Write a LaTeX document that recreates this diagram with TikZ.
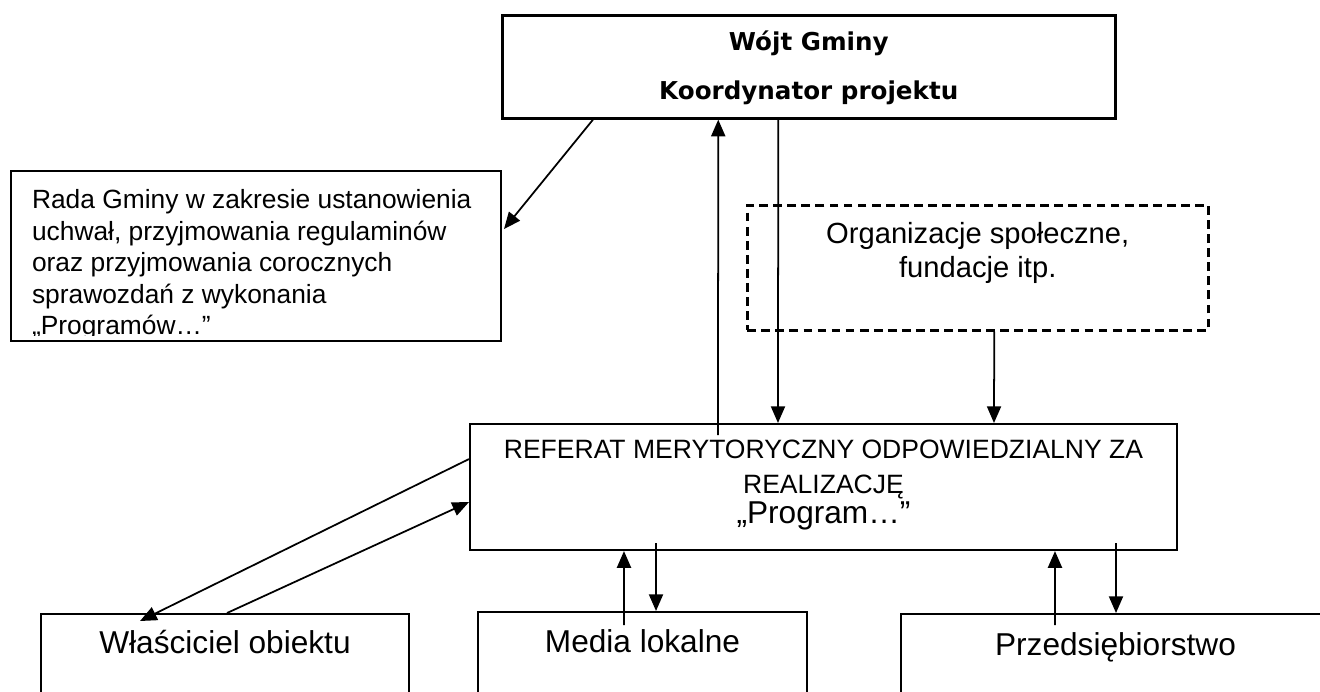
\documentclass[tikz,border=0pt]{standalone}
\usepackage{fontspec}
\setmainfont{Liberation Sans}
\newfontfamily\wojtfont{DejaVu Sans}
\usetikzlibrary{calc,arrows.meta}

\begin{document}
\begin{tikzpicture}[x=0.02cm,y=-0.02cm,
        box/.style={draw,line width=1.2pt,inner sep=0pt,anchor=north west},
        txt/.style={inner sep=0pt,anchor=base},
        arr/.style={line width=1pt,-{Triangle[length=9.5pt,width=8pt]}}]
                \useasboundingbox (0,0) rectangle (1320,691);
                \clip (0,0) rectangle (1320,691);
                % boxes
                \node[box,line width=1.5pt,minimum width=12.26cm,minimum height=2.06cm] (wojt) at (501,14) {};
                \node[box,minimum width=9.81cm,minimum height=3.4cm] (rada) at (9.5,170) {};
                \node[box,dashed,dash pattern=on 5pt off 3pt,line width=1.5pt,minimum width=9.22cm,minimum height=2.5cm] (org) at (746,204) {};
                \node[box,minimum width=14.14cm,minimum height=2.52cm] (ref) at (469,423) {};
                \node[box,minimum width=7.36cm,minimum height=2.4cm] (wlas) at (40,613) {};
                \node[box,minimum width=6.58cm,minimum height=2.4cm] (media) at (477,611) {};
                \node[box,minimum width=8.8cm,minimum height=2.4cm] (przed) at (900,613) {};
                % texts
                \node[txt,font=\wojtfont\bfseries\fontsize{14}{16}\selectfont] (wojt1) at ($(wojt.north)+(0,36)$) {Wójt Gminy};
                \node[txt,font=\wojtfont\bfseries\fontsize{14}{16}\selectfont] (wojt2) at ($(wojt.north)+(0,85)$) {Koordynator projektu};
                \node[txt,font=\fontsize{16.6}{19}\selectfont] (org1) at ($(org.north)+(0,39)$) {Organizacje społeczne,};
                \node[txt,font=\fontsize{16.6}{19}\selectfont] (org2) at ($(org.north)+(0,73)$) {fundacje itp.};
                \node[txt,font=\fontsize{15.1}{18}\selectfont] (ref1) at ($(ref.north)+(0,35)$) {REFERAT MERYTORYCZNY ODPOWIEDZIALNY ZA};
                \node[txt,font=\fontsize{15.1}{18}\selectfont] (ref2) at ($(ref.north)+(0,70)$) {REALIZACJĘ};
                \node[txt,font=\fontsize{18}{21}\selectfont] (ref3) at ($(ref.north)+(0,100)$) {„Program…”};
                \node[txt,font=\fontsize{18}{21}\selectfont] (wlas1) at ($(wlas.north)+(0,40)$) {Właściciel obiektu};
                \node[txt,font=\fontsize{18}{21}\selectfont] (media1) at ($(media.north)+(0,41)$) {Media lokalne};
                \node[txt,font=\fontsize{18}{21}\selectfont] (przed1) at ($(przed.north)+(-5.5,42)$) {Przedsiębiorstwo};
                % rada text, cut at the bottom
                \scope
                \clip (rada.north west) rectangle ($(rada.south east)+(0,-7)$);
                \node[inner sep=0pt,anchor=north west,align=left,font=\fontsize{15}{18}\selectfont] (rada1) at ($(rada.north west)+(22.2,19)$)
                      {Rada Gminy w zakresie ustanowienia\\uchwał, przyjmowania regulaminów\\oraz przyjmowania corocznych\\sprawozdań z wykonania\\„Programów…”};
                \endscope
                % arrows
                \draw[arr] ($(wojt.south west)+(92,0)$) -- ($(rada.east)+(2,-27)$);
                \draw[arr] ($(ref.north)+(-105.5,12)$) -- ($(wojt.south)+(-90.5,0)$);
                \draw[arr] ($(wojt.south)+(-30.5,0)$) -- ($(ref.north)+(-45.5,0)$);
                \draw[arr] ($(org.south)+(16.5,0)$) -- ($(ref.north)+(170.5,0)$);
                \draw[arr] ($(ref.west)+(0,-28)$) -- ($(wlas.north)+(-85,8)$);
                \draw[arr] ($(wlas.north)+(2,0)$) -- ($(ref.west)+(0,15)$);
                \draw[arr] ($(media.north)+(-18.5,14)$) -- ($(ref.south)+(-199.5,0)$);
                \draw[arr] ($(ref.south)+(-167.5,-8)$) -- ($(media.north)+(13.5,0)$);
                \draw[arr] ($(przed.north)+(-66,12)$) -- ($(ref.south)+(231.5,0)$);
                \draw[arr] ($(ref.south)+(292.5,-8)$) -- ($(przed.north)+(-5,0)$);
\end{tikzpicture}
\end{document}
